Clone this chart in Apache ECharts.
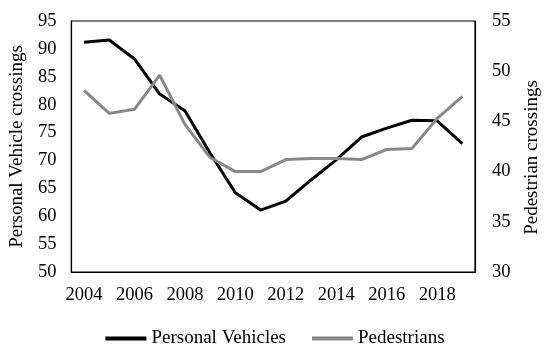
<!DOCTYPE html>
<html><head><meta charset="utf-8">
<script src="https://cdn.jsdelivr.net/npm/echarts@6/dist/echarts.min.js"></script>
<style>html,body{margin:0;padding:0;background:#fff}#c{width:550px;height:354px}</style>
</head><body><div id="c"></div>
<script>
const years = ['2004','2005','2006','2007','2008','2009','2010','2011','2012','2013','2014','2015','2016','2017','2018','2019'];
const vehicles = [91.2,91.6,88.2,81.9,78.9,71.3,64.2,61.1,62.7,66.5,70.1,74.2,75.8,77.2,77.1,73.0];
const pedestrians = [48.1,45.8,46.2,49.6,44.7,41.4,40.0,40.0,41.2,41.3,41.3,41.2,42.2,42.3,45.3,47.5];
const font = 'Liberation Serif';
const chart = echarts.init(document.getElementById('c'));
chart.setOption({
  animation:false,
  textStyle:{fontFamily:font,color:'#000'},
  grid:{left:65,right:70,top:21,bottom:82,show:true,borderColor:'#000',borderWidth:1.2},
  legend:{top:324,left:'center',itemWidth:41,itemHeight:4,itemGap:26,
    textStyle:{fontFamily:font,fontSize:19,color:'#000'},
    data:[{name:'Personal Vehicles',icon:'rect'},{name:'Pedestrians',icon:'rect'}]},
  xAxis:{type:'category',data:years,boundaryGap:true,
    axisLine:{lineStyle:{color:'#000',width:1.2}},axisTick:{show:false},
    axisLabel:{interval:1,fontFamily:font,fontSize:18.5,color:'#000',margin:14}},
  yAxis:[
    {type:'value',min:50,max:95,interval:5,name:'Personal Vehicle crossings',nameLocation:'middle',nameGap:41,
     nameTextStyle:{fontFamily:font,fontSize:19,color:'#000'},
     axisLine:{show:true,lineStyle:{color:'#000',width:1.2}},axisTick:{show:false},splitLine:{show:false},
     axisLabel:{fontFamily:font,fontSize:18.5,color:'#000',margin:15}},
    {type:'value',min:30,max:55,interval:5,name:'Pedestrian crossings',nameLocation:'middle',nameGap:48,nameRotate:90,
     nameTextStyle:{fontFamily:font,fontSize:19,color:'#000',padding:[0,22,0,0]},
     axisLine:{show:true,lineStyle:{color:'#000',width:1.2}},axisTick:{show:false},splitLine:{show:false},
     axisLabel:{fontFamily:font,fontSize:18.5,color:'#000',margin:17}}
  ],
  series:[
    {name:'Personal Vehicles',type:'line',data:vehicles,yAxisIndex:0,symbol:'none',
     lineStyle:{color:'#000',width:3},itemStyle:{color:'#000'}},
    {name:'Pedestrians',type:'line',data:pedestrians,yAxisIndex:1,symbol:'none',
     lineStyle:{color:'#888',width:3},itemStyle:{color:'#888'}}
  ]
});
</script></body></html>
